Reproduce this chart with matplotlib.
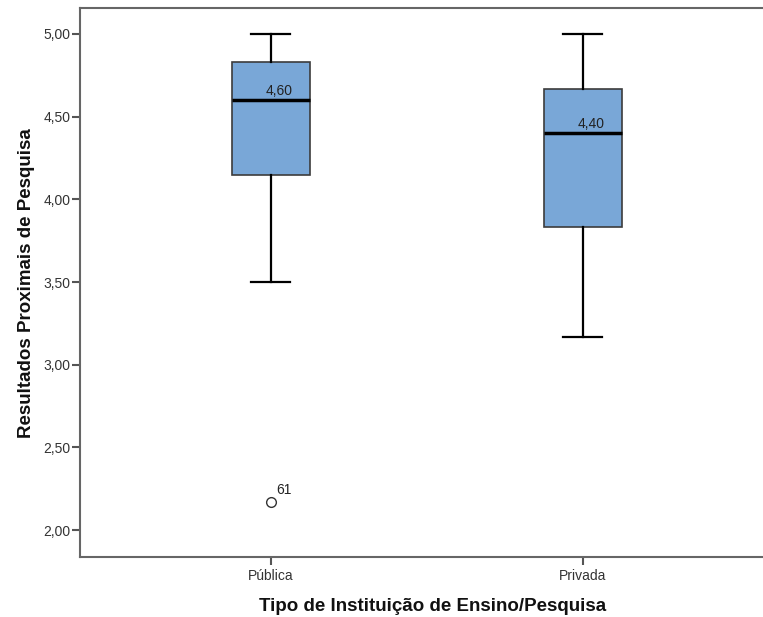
import matplotlib
matplotlib.use("Agg")
import matplotlib.pyplot as plt
from matplotlib.ticker import FuncFormatter

# box statistics
categories = ["Pública", "Privada"]
whisker_low = [3.50, 3.17]
q1 = [4.15, 3.83]
median = [4.60, 4.40]
q3 = [4.83, 4.67]
whisker_high = [5.00, 5.00]
outliers = [[2.17], []]
outlier_ids = [["61"], []]

plt.rcParams['font.family'] = ['Liberation Sans', 'DejaVu Sans']

fig = plt.figure(figsize=(7.63, 6.17), dpi=100)
ax = fig.add_axes([80/763, 60/617, 683/763, 549/617])

stats = []
for i in range(len(categories)):
    stats.append(dict(med=median[i], q1=q1[i], q3=q3[i],
                      whislo=whisker_low[i], whishi=whisker_high[i],
                      fliers=outliers[i]))

pos = list(range(1, len(categories) + 1))
ax.bxp(stats, positions=pos, widths=0.25, patch_artist=True,
       boxprops=dict(facecolor='#79A7D7', edgecolor='#3c3c3c', linewidth=1.2),
       medianprops=dict(color='black', linewidth=2.5),
       whiskerprops=dict(color='black', linewidth=1.6),
       capprops=dict(color='black', linewidth=1.6),
       capwidths=0.125,
       flierprops=dict(marker='o', markerfacecolor='white', markeredgecolor='#333333',
                       markersize=7, markeredgewidth=1.0))

# median labels
for p, m in zip(pos, median):
    ax.text(p - 0.017, m + 0.012, f"{m:.2f}".replace('.', ','), ha='left', va='bottom',
            fontsize=10, color='#222222')

# outlier case numbers
for p, vals, ids in zip(pos, outliers, outlier_ids):
    for v, s in zip(vals, ids):
        ax.text(p + 0.018, v + 0.03, s, ha='left', va='bottom', fontsize=10, color='#222222')

ax.set_xlim(0.388, 2.577)
ax.set_ylim(1.837, 5.157)
ax.set_xticks(pos)
ax.set_xticklabels(categories)
ax.set_yticks([2.0, 2.5, 3.0, 3.5, 4.0, 4.5, 5.0])
ax.yaxis.set_major_formatter(FuncFormatter(lambda v, _: f"{v:.2f}".replace('.', ',')))
ax.tick_params(axis='both', labelsize=10, colors='#555555', labelcolor='#333333',
               length=6, width=1.5)
ax.tick_params(axis='y', pad=1)
ax.tick_params(axis='x', pad=3)

for s in ['left', 'top', 'bottom']:
    ax.spines[s].set_color('#666666')
    ax.spines[s].set_linewidth(1.5)
ax.spines['right'].set_visible(False)

ax.set_xlabel("Tipo de Instituição de Ensino/Pesquisa", fontsize=13.5, fontweight='bold',
              color='#111111')
ax.set_ylabel("Resultados Proximais de Pesquisa", fontsize=13.5, fontweight='bold',
              color='#111111')
ax.xaxis.set_label_coords((433 - 80) / 683, -(598 - 557) / 549)
ax.yaxis.set_label_coords(-(80 - 35) / 683, (617 - 283 - 60) / 549)

fig.savefig("out.png", dpi=100)
